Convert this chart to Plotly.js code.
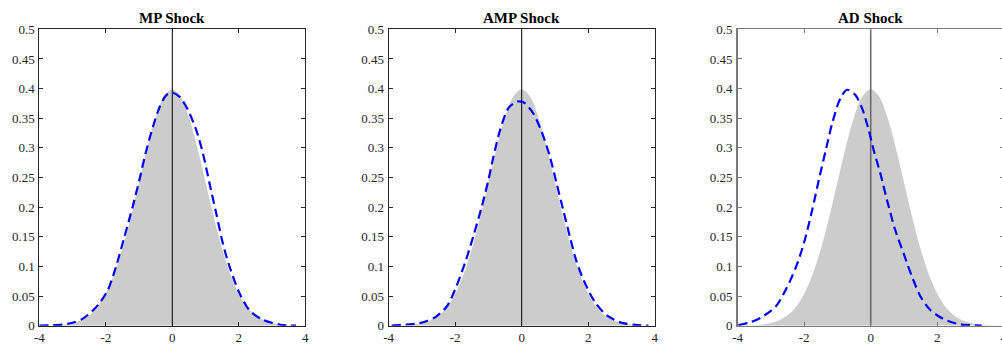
<!DOCTYPE html>
<html>
<head>
<meta charset="utf-8">
<script src="https://cdn.plot.ly/plotly-3.0.1.min.js"></script>
<style>
html,body{margin:0;padding:0;overflow:hidden;background:#fff;}
#chart{width:1010px;height:344px;}
</style>
</head>
<body>
<div id="chart"></div>
<script>
// ---- Data ----
const panelTitles = ["MP Shock", "AMP Shock", "AD Shock"];

// Prior density (gray area)
const priorX = [-4,-3.75,-3.5,-3.25,-3,-2.75,-2.5,-2.25,-2,-1.75,-1.5,-1.25,-1,-0.75,-0.5,-0.25,0,
                0.25,0.5,0.75,1,1.25,1.5,1.75,2,2.25,2.5,2.75,3,3.25,3.5,3.75,4];
const priorY = [0.0001,0.0004,0.0009,0.0020,0.0044,0.0091,0.0175,0.0317,0.0540,0.0863,0.1295,0.1826,0.2420,0.3011,0.3521,0.3867,0.3989,
                0.3867,0.3521,0.3011,0.2420,0.1826,0.1295,0.0863,0.0540,0.0317,0.0175,0.0091,0.0044,0.0020,0.0009,0.0004,0.0001];

// Posterior densities (blue dashed)
const mpX = [-4,-3.6,-3.3,-3.0,-2.69,-2.4,-2.19,-1.94,-1.69,-1.44,-1.19,-0.99,-0.79,-0.58,-0.38,-0.18,0,
             0.22,0.47,0.72,0.92,1.12,1.32,1.52,1.72,2.02,2.32,2.72,3.22,3.72];
const mpY = [0.000,0.001,0.002,0.005,0.012,0.025,0.038,0.060,0.100,0.150,0.201,0.246,0.294,0.336,0.369,0.389,0.393,
             0.386,0.364,0.330,0.291,0.240,0.190,0.139,0.100,0.055,0.026,0.010,0.002,0.000];

const ampX = [-3.91,-3.5,-3.11,-2.85,-2.61,-2.26,-2.01,-1.71,-1.46,-1.2,-1.0,-0.85,-0.65,-0.40,-0.15,0.0,
              0.10,0.35,0.60,0.85,1.05,1.25,1.45,1.65,1.90,2.20,2.55,3.0,3.51,3.81];
const ampY = [0.000,0.002,0.004,0.008,0.014,0.032,0.060,0.105,0.150,0.201,0.246,0.285,0.330,0.367,0.378,0.378,
              0.375,0.358,0.327,0.285,0.240,0.195,0.150,0.108,0.072,0.040,0.018,0.005,0.001,0.000];

const adX = [-3.98,-3.6,-3.26,-2.86,-2.56,-2.26,-2.01,-1.76,-1.56,-1.36,-1.16,-0.91,-0.71,-0.46,-0.26,-0.06,
             0.09,0.29,0.49,0.74,0.99,1.24,1.50,1.80,2.20,2.70,3.0,3.34];
const adY = [0.001,0.006,0.015,0.032,0.060,0.097,0.139,0.195,0.246,0.294,0.341,0.384,0.398,0.389,0.367,0.330,
             0.296,0.257,0.212,0.161,0.122,0.083,0.049,0.026,0.011,0.002,0.001,0.000];

const posteriorX = [mpX, ampX, adX];
const posteriorY = [mpY, ampY, adY];

// Reference vertical line at zero
const refLineX = [0, 0];
const refLineY = [0, 0.5];

// Ticks
const xTickVals = [-4, -2, 0, 2, 4];
const xTickText = ["-4", "-2", "0", "2", "4"];
const yTickVals = [0, 0.05, 0.1, 0.15, 0.2, 0.25, 0.3, 0.35, 0.4, 0.45, 0.5];
const yTickText = ["0", "0.05", "0.1", "0.15", "0.2", "0.25", "0.3", "0.35", "0.4", "0.45", "0.5"];

// ---- Layout/styling ----
const W = 1010;
const xDomains = [[39.3 / W, 305.3 / W], [388.7 / W, 654.7 / W], [737.7 / W, 1003.7 / W]];
const yDomain = [(344 - 325.7) / 344, (344 - 29.3) / 344];
const axisColors = ["#262626", "#262626", "#7a7a7a"];
const yAxisWidths = [1, 1, 1.6];
const refColors = ["#000000", "#000000", "#6a6a6a"];
const refWidths = [1, 1, 1.6];
const fontFam = "Liberation Serif";

const traces = [];
const layout = {
  width: W, height: 344,
  margin: {l: 0, r: 0, t: 0, b: 0, pad: 0},
  paper_bgcolor: "#ffffff", plot_bgcolor: "#ffffff",
  showlegend: false,
  font: {family: fontFam, size: 13, color: "#262626"},
  annotations: []
};

for (let i = 0; i < 3; i++) {
  const xa = i === 0 ? "x" : "x" + (i + 1);
  const ya = i === 0 ? "y" : "y" + (i + 1);
  traces.push({
    x: priorX, y: priorY, xaxis: xa, yaxis: ya, type: "scatter", mode: "lines",
    fill: "tozeroy", fillcolor: "#cccccc", line: {width: 0, color: "#cccccc", shape: "spline"},
    hoverinfo: "skip"
  });
  traces.push({
    x: refLineX, y: refLineY, xaxis: xa, yaxis: ya, type: "scatter", mode: "lines",
    line: {width: refWidths[i], color: refColors[i]}, hoverinfo: "skip"
  });
  traces.push({
    x: posteriorX[i], y: posteriorY[i], xaxis: xa, yaxis: ya, type: "scatter", mode: "lines",
    line: {width: 2.2, color: "#0000ff", dash: "9px,5px", shape: "spline", smoothing: 0.8},
    hoverinfo: "skip"
  });
  const axCommon = {
    showline: true, mirror: "allticks", ticks: "inside", ticklen: 4, tickwidth: 1,
    linecolor: axisColors[i], tickcolor: axisColors[i],
    showgrid: false, zeroline: false, fixedrange: true,
    tickfont: {family: fontFam, size: 13, color: "#262626"}
  };
  layout["xaxis" + (i === 0 ? "" : i + 1)] = Object.assign({}, axCommon, {
    domain: xDomains[i], range: [-4, 4], tickmode: "array", tickvals: xTickVals, ticktext: xTickText,
    anchor: ya, ticklabelstandoff: 0, linewidth: 1
  });
  layout["yaxis" + (i === 0 ? "" : i + 1)] = Object.assign({}, axCommon, {
    domain: yDomain, range: [0, 0.5], tickmode: "array", tickvals: yTickVals, ticktext: yTickText,
    anchor: xa, ticklabelstandoff: 1, linewidth: yAxisWidths[i]
  });
  layout.annotations.push({
    text: "<b>" + panelTitles[i] + "</b>", xref: "paper", yref: "paper",
    x: (xDomains[i][0] + xDomains[i][1]) / 2, y: (344 - 18) / 344,
    xanchor: "center", yanchor: "middle", showarrow: false,
    font: {family: fontFam, size: 15, color: "#000000"}
  });
}

Plotly.newPlot("chart", traces, layout, {staticPlot: true, displayModeBar: false});
</script>
</body>
</html>
